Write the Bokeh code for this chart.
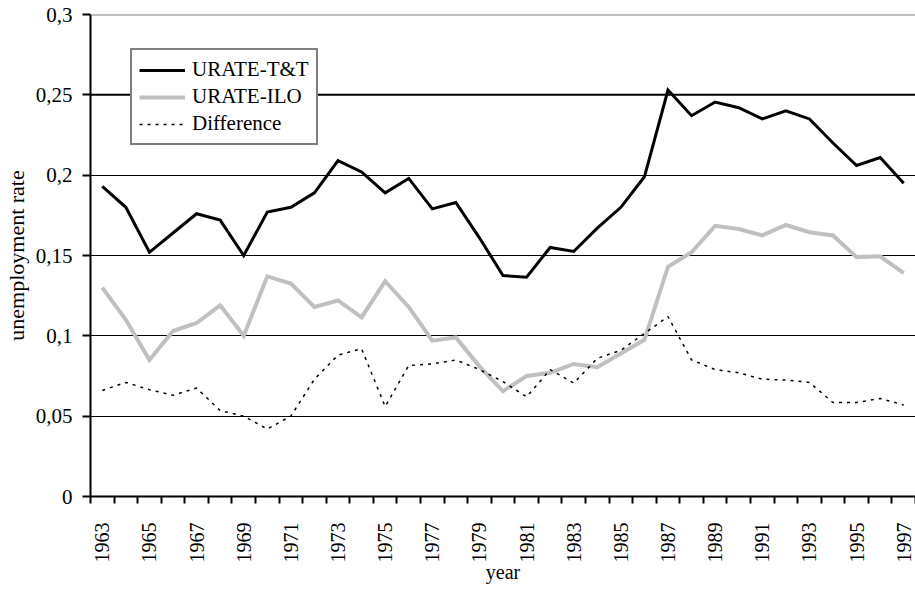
from bokeh.plotting import figure
from bokeh.models import Range1d, FixedTicker, Span, Legend
from bokeh.embed import file_html
from bokeh.resources import INLINE
import math

years = [1963, 1964, 1965, 1966, 1967, 1968, 1969, 1970, 1971, 1972,
         1973, 1974, 1975, 1976, 1977, 1978, 1979, 1980, 1981, 1982,
         1983, 1984, 1985, 1986, 1987, 1988, 1989, 1990, 1991, 1992,
         1993, 1994, 1995, 1996, 1997]

urate_tt = [0.193, 0.180, 0.152, 0.164, 0.176, 0.172, 0.150, 0.177, 0.180, 0.189,
            0.209, 0.202, 0.189, 0.198, 0.179, 0.183, 0.161, 0.1375, 0.1365, 0.155,
            0.1525, 0.167, 0.180, 0.199, 0.253, 0.237, 0.2455, 0.242, 0.235, 0.240,
            0.235, 0.220, 0.206, 0.211, 0.195]

urate_ilo = [0.130, 0.110, 0.085, 0.103, 0.108, 0.119, 0.100, 0.137, 0.1325, 0.118,
             0.122, 0.1115, 0.134, 0.118, 0.097, 0.099, 0.081, 0.0655, 0.075, 0.077,
             0.0825, 0.0805, 0.089, 0.0975, 0.143, 0.152, 0.1685, 0.1665, 0.1625, 0.169,
             0.1645, 0.1625, 0.149, 0.1495, 0.139]

difference = [0.066, 0.071, 0.0665, 0.063, 0.0675, 0.0535, 0.050, 0.042, 0.050, 0.073,
              0.088, 0.092, 0.056, 0.0815, 0.0825, 0.085, 0.079, 0.0715, 0.062, 0.079,
              0.0705, 0.086, 0.091, 0.1015, 0.112, 0.085, 0.079, 0.077, 0.073, 0.0725,
              0.071, 0.0585, 0.0585, 0.061, 0.057]

x_tick_years = [1963, 1965, 1967, 1969, 1971, 1973, 1975, 1977, 1979, 1981,
                1983, 1985, 1987, 1989, 1991, 1993, 1995, 1997]
y_tick_values = [0, 0.05, 0.1, 0.15, 0.2, 0.25, 0.3]
y_tick_labels = ["0", "0,05", "0,1", "0,15", "0,2", "0,25", "0,3"]

FONT = "Liberation Serif"

p = figure(width=915, height=594, output_backend="svg", toolbar_location=None,
           x_range=Range1d(years[0] - 0.5, years[-1] + 0.5),
           y_range=Range1d(0, 0.3),
           min_border_left=90, min_border_right=0, min_border_top=14, min_border_bottom=98)
p.outline_line_color = None
p.xgrid.grid_line_color = None
p.ygrid.ticker = FixedTicker(ticks=y_tick_values[1:-1])
p.ygrid.grid_line_color = "black"
p.ygrid.grid_line_width = 1

p.add_layout(Span(location=y_tick_values[-1], dimension="width", line_color="#808080", line_width=2))
p.add_layout(Span(location=y_tick_values[-2], dimension="width", line_color="black", line_width=2))

# Axes
xa = p.xaxis[0]
xa.ticker = FixedTicker(ticks=x_tick_years, minor_ticks=[y - 0.5 for y in years] + [years[-1] + 0.5])
xa.major_tick_line_color = None
xa.major_tick_out = 0
xa.major_tick_in = 0
xa.minor_tick_line_color = "black"
xa.minor_tick_line_width = 2
xa.minor_tick_out = 7
xa.minor_tick_in = 0
xa.axis_line_color = "black"
xa.axis_line_width = 2
xa.major_label_orientation = math.pi / 2
xa.major_label_standoff = 19
xa.major_label_text_font = FONT
xa.major_label_text_font_size = "20px"
xa.major_label_text_color = "black"
xa.axis_label = "year"
xa.axis_label_text_font = FONT
xa.axis_label_text_font_size = "20px"
xa.axis_label_text_font_style = "normal"
xa.axis_label_text_color = "black"
xa.axis_label_standoff = -5

ya = p.yaxis[0]
ya.ticker = FixedTicker(ticks=y_tick_values)
ya.major_label_overrides = {v: s for v, s in zip(y_tick_values, y_tick_labels)}
ya.minor_tick_line_color = None
ya.major_tick_line_color = "black"
ya.major_tick_line_width = 2
ya.major_tick_out = 8
ya.major_tick_in = 0
ya.axis_line_color = "black"
ya.axis_line_width = 2
ya.major_label_standoff = 10
ya.major_label_text_font = FONT
ya.major_label_text_font_size = "21px"
ya.major_label_text_color = "black"
ya.axis_label = "unemployment rate"
ya.axis_label_text_font = FONT
ya.axis_label_text_font_size = "22px"
ya.axis_label_text_font_style = "normal"
ya.axis_label_text_color = "black"
ya.axis_label_standoff = 4

r1 = p.line(years, urate_tt, line_color="black", line_width=3, line_join="miter")
r2 = p.line(years, urate_ilo, line_color="#c0c0c0", line_width=4, line_join="miter")
r3 = p.line(years, difference, line_color="black", line_width=1.5, line_dash="3 5")

legend = Legend(items=[("URATE-T&T", [r1]), ("URATE-ILO", [r2]), ("Difference", [r3])],
                location=(40, 351))
legend.border_line_color = "black"
legend.border_line_width = 2
legend.background_fill_color = "white"
legend.background_fill_alpha = 1
legend.label_text_font = FONT
legend.label_text_font_size = "21px"
legend.label_text_color = "black"
legend.glyph_width = 46
legend.glyph_height = 24
legend.label_height = 24
legend.label_standoff = 7
legend.padding = 7
legend.spacing = 2
legend.margin = 0
p.add_layout(legend, "center")

open("out.html", "w").write(file_html(p, INLINE))
